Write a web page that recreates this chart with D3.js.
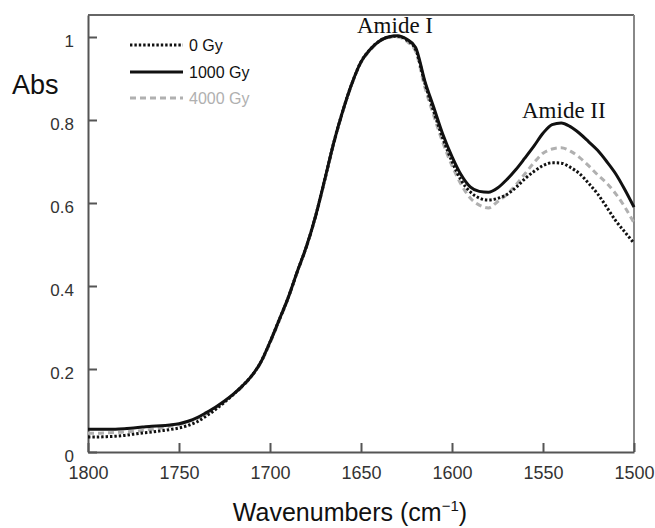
<!DOCTYPE html>
<html>
<head>
<meta charset="utf-8">
<script src="https://cdn.jsdelivr.net/npm/d3@7"></script>
<style>
  html, body { margin: 0; padding: 0; background: #fff; }
  svg { display: block; }
</style>
</head>
<body>
<svg id="chart" width="655" height="528"></svg>
<script>
const wavenumbers = [1800,1795,1790,1785,1780,1775,1770,1765,1760,1755,1750,1745,1740,1735,1730,1725,1720,1715,1710,1705,1700,1695,1690,1685,1680,1675,1670,1665,1660,1655,1650,1645,1640,1635,1630,1625,1620,1615,1610,1605,1600,1595,1590,1585,1580,1575,1570,1565,1560,1555,1550,1545,1540,1535,1530,1525,1520,1515,1510,1505,1500];

const gy0 = [0.036,0.036,0.037,0.038,0.040,0.043,0.046,0.048,0.051,0.054,0.058,0.064,0.073,0.087,0.102,0.120,0.139,0.160,0.184,0.217,0.265,0.318,0.372,0.435,0.495,0.568,0.655,0.745,0.822,0.888,0.940,0.970,0.990,1.000,1.002,0.993,0.970,0.890,0.820,0.755,0.700,0.655,0.627,0.612,0.607,0.611,0.620,0.637,0.658,0.676,0.690,0.697,0.696,0.686,0.671,0.648,0.622,0.590,0.557,0.530,0.503];

const gy1000 = [0.055,0.055,0.055,0.055,0.056,0.058,0.060,0.062,0.063,0.065,0.068,0.074,0.083,0.095,0.108,0.123,0.140,0.160,0.184,0.217,0.265,0.318,0.372,0.435,0.495,0.568,0.655,0.745,0.822,0.888,0.940,0.970,0.990,1.000,1.003,0.995,0.975,0.895,0.830,0.765,0.712,0.668,0.639,0.628,0.626,0.636,0.656,0.680,0.708,0.737,0.768,0.789,0.793,0.784,0.768,0.748,0.727,0.700,0.670,0.632,0.590];

const gy4000 = [0.045,0.045,0.046,0.047,0.048,0.050,0.052,0.055,0.058,0.062,0.066,0.073,0.081,0.092,0.106,0.121,0.139,0.158,0.183,0.215,0.262,0.315,0.370,0.433,0.493,0.566,0.652,0.742,0.820,0.886,0.938,0.968,0.989,0.999,1.000,0.990,0.965,0.880,0.810,0.745,0.690,0.645,0.612,0.595,0.588,0.603,0.620,0.643,0.670,0.697,0.720,0.730,0.733,0.725,0.710,0.690,0.668,0.648,0.622,0.590,0.552];

const seriesNames = ["0 Gy", "1000 Gy", "4000 Gy"];
const xTicks = [1800,1750,1700,1650,1600,1550,1500];
const yTicks = [0,0.2,0.4,0.6,0.8,1];

const svg = d3.select("#chart");
const L = 88, R = 634, T = 15, B = 452;

const x = d3.scaleLinear().domain([1800,1500]).range([L,R]);
const y = d3.scaleLinear().domain([0,1.053]).range([B,T]);

const styles = [
  {data: gy0, stroke: "#111", width: 3, dash: "2.4,2", textColor: "#111"},
  {data: gy1000, stroke: "#111", width: 3, dash: null, textColor: "#111"},
  {data: gy4000, stroke: "#b0b0b0", width: 3, dash: "6,4", textColor: "#b0b0b0"}
];

// frame (top and right)
svg.append("line").attr("x1",L).attr("x2",R).attr("y1",T).attr("y2",T)
  .attr("stroke","#666").attr("stroke-width",2);
svg.append("line").attr("x1",R).attr("x2",R).attr("y1",T).attr("y2",B)
  .attr("stroke","#888").attr("stroke-width",2);

// axes
const fmt = d => d === 0 ? "0" : d === 1 ? "1" : d.toFixed(1);
const gy = svg.append("g").attr("transform",`translate(${L},0)`)
  .call(d3.axisLeft(y).tickValues(yTicks).tickFormat(fmt).tickSizeInner(-9).tickSizeOuter(0).tickPadding(14));
const gx = svg.append("g").attr("transform",`translate(0,${B})`)
  .call(d3.axisBottom(x).tickValues(xTicks).tickFormat(d3.format("d")).tickSizeInner(-9).tickSizeOuter(0).tickPadding(14));

[gx, gy].forEach(g => {
  g.select(".domain").attr("stroke","#555").attr("stroke-width",2);
  g.selectAll(".tick line").attr("stroke","#555").attr("stroke-width",2);
  g.selectAll(".tick text").attr("fill","#333").attr("font-family","'Liberation Sans', Arial, sans-serif");
});
gy.selectAll(".tick text").attr("font-size",17).attr("dy","0.55em");
gx.selectAll(".tick text").attr("font-size",18);

// lines
const line = d3.line().x((d,i) => x(wavenumbers[i])).y(d => y(d)).curve(d3.curveMonotoneX);
styles.slice().reverse().forEach(s => {
  svg.append("path").datum(s.data)
    .attr("fill","none").attr("stroke",s.stroke).attr("stroke-width",s.width)
    .attr("stroke-dasharray",s.dash)
    .attr("d",line);
});

// legend
const legY = [45, 72, 98];
styles.forEach((s,i) => {
  svg.append("line").attr("x1",130).attr("x2",183).attr("y1",legY[i]).attr("y2",legY[i])
    .attr("stroke",s.stroke).attr("stroke-width",s.width).attr("stroke-dasharray",s.dash);
  svg.append("text").attr("x",189).attr("y",legY[i]).attr("dy","0.36em")
    .attr("font-family","'Liberation Sans', Arial, sans-serif").attr("font-size",16)
    .attr("fill",s.textColor).text(seriesNames[i]);
});

// axis titles
svg.append("text").attr("x",12).attr("y",94)
  .attr("font-family","'Liberation Sans', Arial, sans-serif").attr("font-size",27)
  .attr("fill","#111").text("Abs");

const xt = svg.append("text").attr("x",350).attr("y",521).attr("text-anchor","middle")
  .attr("font-family","'Liberation Sans', Arial, sans-serif").attr("font-size",25).attr("fill","#111");
xt.append("tspan").text("Wavenumbers (cm");
xt.append("tspan").attr("font-size",15).attr("dy",-10).text("\u22121");
xt.append("tspan").attr("dy",10).text(")");

// annotations
svg.append("text").attr("x",357).attr("y",33)
  .attr("font-family","'Liberation Serif', 'Times New Roman', serif").attr("font-size",23)
  .attr("fill","#111").text("Amide I");
svg.append("text").attr("x",522).attr("y",118)
  .attr("font-family","'Liberation Serif', 'Times New Roman', serif").attr("font-size",23)
  .attr("fill","#111").text("Amide II");
</script>
</body>
</html>
